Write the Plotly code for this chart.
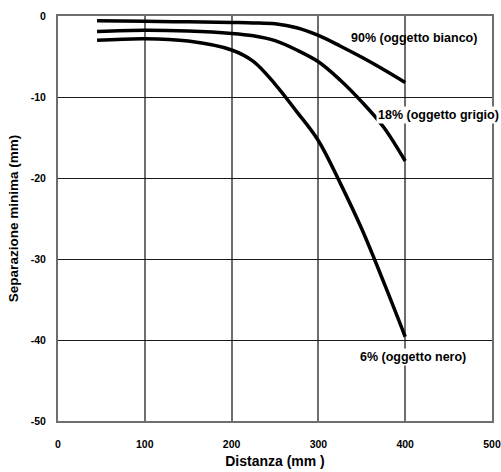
import plotly.graph_objects as go

distanza = [45, 100, 150, 200, 225, 250, 275, 300, 325, 350, 375, 400]
bianco_90 = [-0.6, -0.65, -0.72, -0.8, -0.85, -0.97, -1.45, -2.4, -3.7, -5.1, -6.6, -8.2]
grigio_18 = [-1.9, -1.75, -1.85, -2.15, -2.45, -3.05, -4.2, -5.65, -7.9, -10.6, -13.7, -17.9]
nero_6 = [-3.0, -2.8, -3.1, -4.2, -5.6, -8.4, -11.8, -15.4, -20.6, -26.3, -32.8, -39.6]

labels = ["90% (oggetto bianco)", "18% (oggetto grigio)", "6% (oggetto nero)"]
label_x = [410, 438, 409]
label_y = [-2.75, -12.2, -42.1]
label_bg = ["rgba(0,0,0,0)", "white", "white"]

x_ticks = [0, 100, 200, 300, 400, 500]
y_ticks = [0, -10, -20, -30, -40, -50]

fig = go.Figure()
for ys in (bianco_90, grigio_18, nero_6):
    fig.add_trace(go.Scatter(x=distanza, y=ys, mode="lines",
                             line=dict(color="black", width=3.5, shape="spline", smoothing=1.0),
                             showlegend=False, hoverinfo="skip"))

for t, xx, yy, bg in zip(labels, label_x, label_y, label_bg):
    fig.add_annotation(x=xx, y=yy, text=t, showarrow=False, bgcolor=bg,
                       font=dict(family="Liberation Sans, Arial, sans-serif", size=12.5, color="black", weight="bold"),
                       xanchor="center", yanchor="middle", borderpad=1)

tickfont = dict(family="Liberation Sans, Arial, sans-serif", size=10.5, color="black", weight="bold")
fig.update_xaxes(range=[0, 500], tickvals=x_ticks, ticktext=[str(v) for v in x_ticks],
                 showgrid=True, gridcolor="#6e6e6e", gridwidth=2,
                 showline=True, linecolor="#6e6e6e", linewidth=2, mirror=True,
                 zeroline=False, ticks="", ticklabelstandoff=12, tickfont=tickfont, automargin=False,
                 title=dict(text="Distanza (mm )", standoff=8,
                            font=dict(family="Liberation Sans, Arial, sans-serif", size=14, color="black", weight="bold")))
fig.update_yaxes(range=[-50, 0], tickvals=y_ticks, ticktext=[str(v) for v in y_ticks],
                 showgrid=True, gridcolor="#1a1a1a", gridwidth=1,
                 showline=True, linecolor="#6e6e6e", linewidth=2, mirror=True,
                 zeroline=False, ticks="", ticklabelstandoff=8, tickfont=tickfont, automargin=False,
                 title=dict(text="Separazione minima (mm)", standoff=9,
                            font=dict(family="Liberation Sans, Arial, sans-serif", size=13.5, color="black", weight="bold")))

fig.update_layout(width=501, height=472, margin=dict(l=58, r=9, t=16, b=51, autoexpand=False),
                  plot_bgcolor="white", paper_bgcolor="white",
                  font=dict(family="Liberation Sans, Arial, sans-serif"))
fig.write_html("out.html", config={"displayModeBar": False},
               post_script="document.body.style.margin='0px';document.body.style.padding='0px';")
